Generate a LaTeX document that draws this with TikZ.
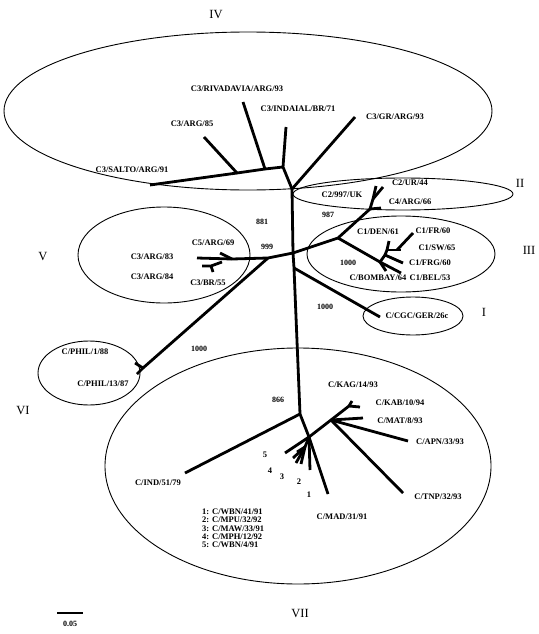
\documentclass[tikz,border=0pt]{standalone}
\usepackage{fontspec}
\setmainfont{Liberation Serif}
\usepackage{tikz}
\usetikzlibrary{shapes.geometric}
\usetikzlibrary{positioning}
\tikzstyle{branch} = [draw, line width=2.8pt, line join=round]
\tikzstyle{group} = [draw, ellipse, line width=0.9pt, inner sep=0pt]
\tikzstyle{strain} = [font=\fontsize{8.5}{9}\selectfont\bfseries, inner sep=1pt]
\tikzstyle{boot} = [font=\fontsize{8}{9}\selectfont\bfseries, inner sep=1pt]
\tikzstyle{roman} = [font=\fontsize{12.5}{13}\selectfont, inner sep=1pt]

\begin{document}
\begin{tikzpicture}[x=1pt, y=-1pt]
\useasboundingbox (0,0) rectangle (538,634);

% Place groups
\node [group, minimum width=488pt, minimum height=158pt] (gIV) at (248,111) {};
\node [group, minimum width=220pt, minimum height=32pt] (gII) at (403,194) {};
\node [group, minimum width=188pt, minimum height=76pt] (gIII) at (401,254) {};
\node [group, minimum width=100pt, minimum height=38pt] (gI) at (413,316) {};
\node [group, minimum width=172pt, minimum height=96pt] (gV) at (164,255) {};
\node [group, minimum width=102pt, minimum height=64pt] (gVI) at (89,373) {};
\node [group, minimum width=386pt, minimum height=236pt] (gVII) at (298,466) {};

% Group names
\node [roman] (nIV) at (216,15) {IV};
\node [roman] (nII) at (520,183) {II};
\node [roman] (nIII) at (529,250) {III};
\node [roman] (nI) at (484,312) {I};
\node [roman] (nV) at (43,256) {V};
\node [roman] (nVI) at (23,410) {VI};
\node [roman] (nVII) at (300,613) {VII};

% Tree points
\coordinate (a) at (292,189);
\coordinate (b) at (293,253);
\coordinate (bi) at (294,268);
\coordinate (c) at (300,414);
\coordinate (d) at (309,437);
\coordinate (g) at (283,167);
\coordinate (h) at (265,169);
\coordinate (j) at (237,173);
\coordinate (tRiv) at (243,102);
\coordinate (tInd) at (286,127);
\coordinate (tArg85) at (204,137);
\coordinate (tSalto) at (150,185);
\coordinate (tGr) at (355,117);
\coordinate (k) at (338,238);
\coordinate (l) at (370,209);
\coordinate (l2) at (373,199);
\coordinate (tUk) at (376,186);
\coordinate (tUr) at (383,187);
\coordinate (tC4) at (381,208);
\coordinate (n1) at (380,262);
\coordinate (n2) at (385,255);
\coordinate (n3) at (387,250);
\coordinate (n4) at (397,250);
\coordinate (tBel) at (401,273);
\coordinate (tBom) at (386,271);
\coordinate (tFrg) at (403,263);
\coordinate (tDen) at (389,241);
\coordinate (tSw) at (401,250);
\coordinate (tFr) at (413,233);
\coordinate (tCgc) at (380,317);
\coordinate (r) at (268,258);
\coordinate (p) at (232,259);
\coordinate (q) at (222,262);
\coordinate (qq) at (211,266);
\coordinate (tC5) at (220,253);
\coordinate (tArg83) at (197,258);
\coordinate (tArg84) at (202,266);
\coordinate (tBr55) at (213,272);
\coordinate (s) at (143,368);
\coordinate (tPhil1) at (135,363);
\coordinate (tPhil13) at (137,374);
\coordinate (e) at (331,420);
\coordinate (kb) at (349,406);
\coordinate (tKag) at (352,401);
\coordinate (tKab) at (360,407);
\coordinate (tMat) at (363,418);
\coordinate (tApn) at (408,441);
\coordinate (tTnp) at (403,493);
\coordinate (tMad) at (328,494);
\coordinate (tIndia) at (185,473);
\coordinate (t1) at (310,470);
\coordinate (t5) at (285,453);
\coordinate (f) at (305,447);
\coordinate (t2) at (301,464);
\coordinate (t3) at (296,463);
\coordinate (t4) at (293,458);
\coordinate (t6) at (297,452);

% Draw branches
\path [branch] (a) -- (b) -- (bi) -- (c) -- (d);
\path [branch] (a) -- (g) -- (tInd);
\path [branch] (g) -- (h) -- (tRiv);
\path [branch] (h) -- (j) -- (tArg85);
\path [branch] (j) -- (tSalto);
\path [branch] (a) -- (tGr);
\path [branch] (b) -- (k) -- (l) -- (l2) -- (tUk);
\path [branch] (l2) -- (tUr);
\path [branch] (l) -- (tC4);
\path [branch] (k) -- (n1) -- (tBel);
\path [branch] (n1) -- (tBom);
\path [branch] (n1) -- (n2) -- (tFrg);
\path [branch] (n2) -- (n3) -- (tDen);
\path [branch] (n3) -- (tSw);
\path [branch] (n4) -- (tFr);
\path [branch] (bi) -- (tCgc);
\path [branch] (b) -- (r) -- (p) -- (tArg83);
\path [branch] (p) -- (tC5);
\path [branch] (q) -- (qq) -- (tArg84);
\path [branch] (qq) -- (tBr55);
\path [branch] (r) -- (s) -- (tPhil1);
\path [branch] (s) -- (tPhil13);
\path [branch] (c) -- (tIndia);
\path [branch] (d) -- (e) -- (kb) -- (tKab);
\path [branch] (kb) -- (tKag);
\path [branch] (e) -- (tMat);
\path [branch] (e) -- (tApn);
\path [branch] (e) -- (tTnp);
\path [branch] (d) -- (tMad);
\path [branch] (d) -- (t1);
\path [branch] (d) -- (t5);
\path [branch] (d) -- (f) -- (t2);
\path [branch] (f) -- (t3);
\path [branch] (f) -- (t4);
\path [branch] (f) -- (t6);

% Strain labels
\node [strain] (lRiv) at (237,89) {C3/RIVADAVIA/ARG/93};
\node [strain] (lInd) at (298,109) {C3/INDAIAL/BR/71};
\node [strain] (lGr) at (395,117) {C3/GR/ARG/93};
\node [strain] (lArg85) at (192,124) {C3/ARG/85};
\node [strain] (lSalto) at (132,170) {C3/SALTO/ARG/91};
\node [strain] (lUr) at (410,183) {C2/UR/44};
\node [strain] (lUk) at (342,195) {C2/997/UK};
\node [strain] (lC4) at (410,202) {C4/ARG/66};
\node [strain] (lDen) at (378,232) {C1/DEN/61};
\node [strain] (lFr) at (433,231) {C1/FR/60};
\node [strain] (lSw) at (437,248) {C1/SW/65};
\node [strain] (lFrg) at (430,263) {C1/FRG/60};
\node [strain] (lBel) at (430,278) {C1/BEL/53};
\node [strain] (lBom) at (378,278) {C/BOMBAY/64};
\node [strain] (lCgc) at (417,316) {C/CGC/GER/26c};
\node [strain] (lC5) at (213,243) {C5/ARG/69};
\node [strain] (lArg83) at (152,257) {C3/ARG/83};
\node [strain] (lArg84) at (152,277) {C3/ARG/84};
\node [strain] (lBr55) at (208,283) {C3/BR/55};
\node [strain] (lPhil1) at (85,352) {C/PHIL/1/88};
\node [strain] (lPhil13) at (103,384) {C/PHIL/13/87};
\node [strain] (lKag) at (353,385) {C/KAG/14/93};
\node [strain] (lKab) at (400,403) {C/KAB/10/94};
\node [strain] (lMat) at (400,421) {C/MAT/8/93};
\node [strain] (lApn) at (440,442) {C/APN/33/93};
\node [strain] (lTnp) at (438,497) {C/TNP/32/93};
\node [strain] (lMad) at (342,517) {C/MAD/31/91};
\node [strain] (lIndia) at (158,483) {C/IND/51/79};
\node [strain] (l5) at (265,455) {5};
\node [strain] (l4) at (270,471) {4};
\node [strain] (l3) at (282,477) {3};
\node [strain] (l2) at (299,482) {2};
\node [strain] (l1) at (309,495) {1};

% Key to numbered tips
\node [strain, anchor=west] (k1) at (201,512) {1: C/WBN/41/91};
\node [strain, anchor=west, below=0pt of k1.south west, anchor=north west] (k2) {2: C/MPU/32/92};
\node [strain, anchor=west, below=0pt of k2.south west, anchor=north west] (k3) {3: C/MAW/33/91};
\node [strain, anchor=west, below=0pt of k3.south west, anchor=north west] (k4) {4: C/MPH/12/92};
\node [strain, anchor=west, below=0pt of k4.south west, anchor=north west] (k5) {5: C/WBN/4/91};

% Bootstrap values
\node [boot] (b881) at (262,222) {881};
\node [boot] (b999) at (267,247) {999};
\node [boot] (b987) at (328,215) {987};
\node [boot] (b1000a) at (348,263) {1000};
\node [boot] (b1000b) at (325,307) {1000};
\node [boot] (b1000c) at (199,349) {1000};
\node [boot] (b866) at (278,400) {866};

% Scale
\coordinate (sbl) at (57,613);
\coordinate (sbr) at (83,613);
\path [branch, line width=2pt] (sbl) -- (sbr);
\node [boot] (scale) at (70,624) {0.05};
\end{tikzpicture}
\end{document}
